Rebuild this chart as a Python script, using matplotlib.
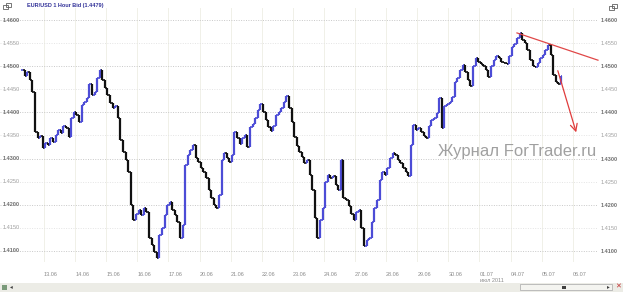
import numpy as np
import matplotlib.pyplot as plt
from matplotlib.patches import Rectangle

W, H = 623, 292
PX_PER_HOUR = 31.1 / 24

# hourly chart, weekends squeezed out; hours counted from 13.06 00:00
START_HOUR = -17
STEP_HOURS = 2

closes = [
    1.4492, 1.4479, 1.4487, 1.4470, 1.4444, 1.4358, 1.4345, 1.4349, 1.4323, 1.4334,
    1.4329, 1.4345, 1.4336, 1.4351, 1.4362, 1.4355, 1.4371, 1.4366, 1.4347, 1.4388,
    1.4401, 1.4394, 1.4379, 1.4416, 1.4422, 1.4431, 1.4461, 1.4438, 1.4444, 1.4474,
    1.4492, 1.4470, 1.4453, 1.4438, 1.4420, 1.4409, 1.4414, 1.4388, 1.4340, 1.4314,
    1.4297, 1.4271, 1.4199, 1.4167, 1.4180, 1.4189, 1.4178, 1.4193, 1.4184, 1.4128,
    1.4113, 1.4098, 1.4085, 1.4135, 1.4150, 1.4178, 1.4199, 1.4206, 1.4189, 1.4178,
    1.4163, 1.4128, 1.4156, 1.4286, 1.4308, 1.4319, 1.4329, 1.4301, 1.4293, 1.4280,
    1.4271, 1.4258, 1.4232, 1.4215, 1.4199, 1.4193, 1.4221, 1.4297, 1.4312, 1.4301,
    1.4293, 1.4308, 1.4358, 1.4345, 1.4332, 1.4345, 1.4351, 1.4325, 1.4368, 1.4375,
    1.4388, 1.4405, 1.4418, 1.4401, 1.4384, 1.4368, 1.4360, 1.4371, 1.4394, 1.4401,
    1.4409, 1.4422, 1.4435, 1.4409, 1.4379, 1.4347, 1.4327, 1.4314, 1.4303, 1.4290,
    1.4297, 1.4264, 1.4232, 1.4171, 1.4128, 1.4167, 1.4193, 1.4249, 1.4264, 1.4258,
    1.4262, 1.4243, 1.4232, 1.4297, 1.4215, 1.4210, 1.4197, 1.4180, 1.4167, 1.4184,
    1.4189, 1.4150, 1.4111, 1.4124, 1.4128, 1.4163, 1.4193, 1.4210, 1.4254, 1.4271,
    1.4264, 1.4280, 1.4301, 1.4312, 1.4308, 1.4297, 1.4290, 1.4280, 1.4271, 1.4262,
    1.4329, 1.4373, 1.4362, 1.4366, 1.4358, 1.4349, 1.4345, 1.4371, 1.4384, 1.4388,
    1.4399, 1.4431, 1.4366, 1.4414, 1.4418, 1.4422, 1.4433, 1.4466, 1.4474, 1.4492,
    1.4503, 1.4487, 1.4470, 1.4457, 1.4500, 1.4518, 1.4509, 1.4505, 1.4500, 1.4492,
    1.4477, 1.4500, 1.4513, 1.4522, 1.4518, 1.4509, 1.4507, 1.4505, 1.4522, 1.4542,
    1.4548, 1.4561, 1.4572, 1.4557, 1.4550, 1.4535, 1.4513, 1.4500, 1.4498, 1.4507,
    1.4518, 1.4524, 1.4535, 1.4546, 1.4524, 1.4481, 1.4466, 1.4461, 1.4479,
]

day_labels = ["13.06", "14.06", "15.06", "16.06", "17.06", "20.06", "21.06", "22.06", "23.06",
              "24.06", "27.06", "28.06", "29.06", "30.06", "01.07", "04.07", "05.07", "06.07"]
price_levels = [1.4100, 1.4150, 1.4200, 1.4250, 1.4300, 1.4350,
                1.4400, 1.4450, 1.4500, 1.4550, 1.4600]
major_levels = [1.4100, 1.4200, 1.4300, 1.4400, 1.4500, 1.4600]

title = "EUR/USD 1 Hour Bid (1.4479)"
watermark = "Журнал ForTrader.ru"
month_label = "июл 2011"

# red resistance line and the arrow drawn by hand on the chart
trend_hours = [365.0, 427.5]
trend_prices = [1.4572, 1.4513]
arrow_start = (395.9, 1.4496)
arrow_end = (411.3, 1.4351)

UP = "#4c4cd6"
DOWN = "#111111"
LABEL_FONT = ["Liberation Sans", "DejaVu Sans"]


def fx(px):
    return px / W


def fy(py):
    return 1 - py / H


fig = plt.figure(figsize=(W / 100, H / 100), dpi=100)
fig.patch.set_facecolor("white")

top_px, bottom_px, right_px = 8, 262, 598
ax = fig.add_axes([0, fy(bottom_px), fx(right_px), (bottom_px - top_px) / H])
ax.set_xlim(-44 / PX_PER_HOUR, (right_px - 44) / PX_PER_HOUR)
ax.set_ylim(1.4600 - (bottom_px - 20) * 0.0002165, 1.4600 + (20 - top_px) * 0.0002165)
for s in ax.spines.values():
    s.set_visible(False)

# grid
day_pos = np.arange(len(day_labels)) * 24
for d in day_pos:
    ax.axvline(d, color="#f0f0e8", lw=0.7, zorder=0)
for lv in price_levels:
    major = lv in major_levels
    ax.axhline(lv, color="#c8c8c8" if major else "#e4e4e4", lw=0.7,
               ls=(0, (1, 1.5)), zorder=0)

# price labels on both sides
ax.yaxis.tick_right()
ax.set_yticks(price_levels)
ax.set_yticklabels([f"{v:.4f}" for v in price_levels])
ax.tick_params(axis="y", length=0, pad=2, labelsize=4)
for lbl, v in zip(ax.get_yticklabels(), price_levels):
    lbl.set_family(LABEL_FONT)
    if v in major_levels:
        lbl.set_fontweight("bold")
        lbl.set_color("#707070")
    else:
        lbl.set_color("#a0a0a0")
    ax.text(3 / right_px, v, f"{v:.4f}", transform=ax.get_yaxis_transform(),
            ha="left", va="center", fontsize=4, family=LABEL_FONT, zorder=1,
            color="#707070" if v in major_levels else "#a0a0a0",
            fontweight="bold" if v in major_levels else "normal")

ax.set_xticks(day_pos)
ax.set_xticklabels(day_labels, ha="left", fontsize=4, family=LABEL_FONT, color="#8c8c8c")
ax.tick_params(axis="x", length=0, pad=7)

# bars: open = previous close
c = np.array(closes)
o = np.r_[c[0], c[:-1]]
t = START_HOUR + STEP_HOURS * np.arange(len(c))
cols = np.where(c >= o, UP, DOWN)
ax.vlines(t, np.minimum(o, c), np.maximum(o, c), colors=cols, lw=1.6, zorder=3)
ax.hlines(o, t - 1.0, t, colors=cols, lw=1.2, zorder=3)
ax.hlines(c, t, t + 1.0, colors=cols, lw=1.2, zorder=3)

# hand drawn marks
ax.plot(trend_hours, trend_prices, color="#e04848", lw=0.9, zorder=4, clip_on=False)
ax.annotate("", xy=arrow_end, xytext=arrow_start,
            arrowprops=dict(arrowstyle="->,head_length=0.5,head_width=0.25",
                            color="#e03c3c", lw=0.9), zorder=4)

# watermark
fig.text(fx(438), fy(156), watermark, fontsize=12, family=LABEL_FONT,
         color="#909090", alpha=0.85, ha="left", va="baseline")

# header
fig.text(fx(27), fy(5), title, fontsize=4, family=LABEL_FONT, color="#34349a",
         fontweight="bold", va="center")
for x0, y0 in [(3, 9), (6, 7), (609, 10), (612, 8)]:
    fig.patches.append(Rectangle((fx(x0), fy(y0)), fx(5), 4 / H, transform=fig.transFigure,
                                 fill=False, ec="#606060", lw=0.6))

# bottom strip with month label and scrollbar
fig.text(fx(492), fy(280), month_label, fontsize=4, family=LABEL_FONT,
         color="#8c8c8c", ha="center", va="center")
fig.patches.append(Rectangle((0, 0), 1, 9 / H, transform=fig.transFigure,
                             fc="#ecece6", ec="none", zorder=0))
fig.patches.append(Rectangle((fx(520), fy(290)), fx(92), 6 / H, transform=fig.transFigure,
                             fc="#f4f4f0", ec="#a8a8a8", lw=0.5))
fig.patches.append(Rectangle((fx(562), fy(289)), fx(4), 3 / H, transform=fig.transFigure,
                             fc="#404040", ec="none"))
fig.text(fx(608), fy(287), "▸", fontsize=4, color="#404040", ha="center", va="center")
fig.text(fx(618), fy(287), "✕", fontsize=5, color="#c03030", ha="center", va="center")
fig.patches.append(Rectangle((fx(2), fy(290)), fx(5), 5 / H, transform=fig.transFigure,
                             fc="#7a9a7a", ec="none"))
fig.text(fx(11), fy(287), "◂", fontsize=4, color="#404040", ha="center", va="center")

fig.savefig("out.png", dpi=100)
